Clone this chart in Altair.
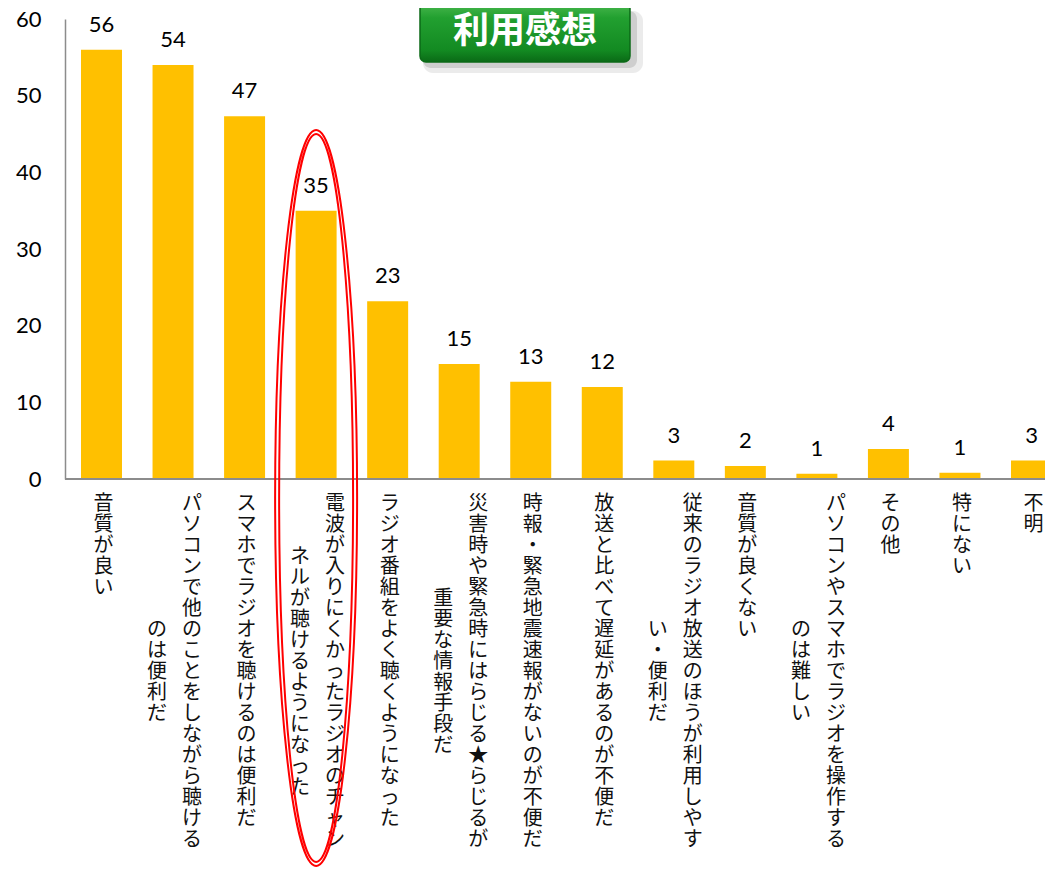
import altair as alt
import pandas as pd

# ---- data ----
label_col1 = [
    "音質が良い",
    "パソコンで他のことをしながら聴ける",
    "スマホでラジオを聴けるのは便利だ",
    "電波が入りにくかったラジオのチャン",
    "ラジオ番組をよく聴くようになった",
    "災害時や緊急時にはらじる★らじるが",
    "時報・緊急地震速報がないのが不便だ",
    "放送と比べて遅延があるのが不便だ",
    "従来のラジオ放送のほうが利用しやす",
    "音質が良くない",
    "パソコンやスマホでラジオを操作する",
    "その他",
    "特にない",
    "不明",
]
label_col2 = [
    "",
    "のは便利だ",
    "",
    "ネルが聴けるようになった",
    "",
    "重要な情報手段だ",
    "",
    "",
    "い・便利だ",
    "",
    "のは難しい",
    "",
    "",
    "",
]
values = [56.0, 54.0, 47.3, 35.0, 23.2, 15.0, 12.7, 12.0, 2.4, 1.7, 0.7, 3.9, 0.8, 2.4]
value_labels = ["56", "54", "47", "35", "23", "15", "13", "12", "3", "2", "1", "4", "1", "3"]
y_ticks = [0, 10, 20, 30, 40, 50, 60]
title_text = "利用感想"
highlight_index = 3

categories = [a + b for a, b in zip(label_col1, label_col2)]

df = pd.DataFrame({
    "cat": categories,
    "value": values,
    "vlabel": value_labels,
    "c1": label_col1,
    "c2": label_col2,
})
one = pd.DataFrame({"k": [0]})

NUM_FONT = "Lato"
JP_FONT = "Noto Sans CJK JP"
LH = 21
TOP = 475

xscale = alt.Scale(domain=categories, range=[16, 987], paddingInner=0.427, paddingOuter=0)
X = alt.X("cat:N", sort=categories, scale=xscale, axis=None)
Y = alt.Y(
    "value:Q",
    scale=alt.Scale(domain=[0, 60], nice=False),
    axis=alt.Axis(
        values=y_ticks, title=None, grid=False, ticks=False,
        domain=True, domainColor="#8c8c8c", domainWidth=1.5,
        labelFont=NUM_FONT, labelFontSize=22, labelColor="#000000",
        labelPadding=24,
    ),
)

base = alt.Chart(df)

bars = base.mark_bar(color="#FFC000").encode(x=X, y=Y)

vtext = base.mark_text(
    font=NUM_FONT, fontSize=22, color="#000000", baseline="alphabetic", dy=-18
).encode(x=X, y=alt.Y("value:Q"), text="vlabel:N")

xaxis_line = alt.Chart(one).mark_rule(color="#8c8c8c", strokeWidth=2).encode(
    x=alt.value(0), x2=alt.value(995), y=alt.value(460)
)

lab_kw = dict(font=JP_FONT, fontSize=20, color="#111111", lineHeight=LH, baseline="top")

single = base.transform_filter("datum.c2 == ''").transform_calculate(
    chars="split(datum.c1, '')"
).mark_text(dx=2, **lab_kw).encode(
    x=X, y=alt.value(TOP), text="chars:N"
)
first = base.transform_filter("datum.c2 != ''").transform_calculate(
    chars="split(datum.c1, '')"
).mark_text(dx=19, **lab_kw).encode(
    x=X, y=alt.value(TOP), text="chars:N"
)
second = base.transform_filter("datum.c2 != ''").transform_calculate(
    chars="split(datum.c2, '')",
    ypos=f"{TOP} + (length(datum.c1) - length(datum.c2)) * {LH} / 2",
).mark_text(dx=-16, **lab_kw).encode(
    x=X, y=alt.Y("ypos:Q", scale=None, axis=None), text="chars:N"
)

a, c = 0.1114, 0.1005
ell_path = (
    f"M -{a} 0 A {a} 1 0 1 1 {a} 0 A {a} 1 0 1 1 -{a} 0 Z "
    f"M -{c} 0 A {c} 0.989 0 1 1 {c} 0 A {c} 0.989 0 1 1 -{c} 0 Z"
)
ellipse = base.transform_filter(
    alt.FieldEqualPredicate(field="cat", equal=categories[highlight_index])
).mark_point(
    shape=ell_path, size=541696, filled=False, stroke="#FF0000",
    strokeWidth=2, opacity=1,
).encode(x=X, y=alt.value(479))

shadow1 = alt.Chart(one).mark_rect(
    color="#b0b0b0", opacity=0.25, cornerRadius=10
).encode(x=alt.value(358), x2=alt.value(578), y=alt.value(-8), y2=alt.value(54))
shadow2 = alt.Chart(one).mark_rect(
    color="#8a8a8a", opacity=0.3, cornerRadius=8
).encode(x=alt.value(358), x2=alt.value(572), y=alt.value(-8), y2=alt.value(49))

box = alt.Chart(one).mark_rect(
    color=alt.LinearGradient(
        gradient="linear", x1=0, y1=0, x2=0, y2=1,
        stops=[
            alt.GradientStop(offset=0, color="#49b84e"),
            alt.GradientStop(offset=0.25, color="#22a030"),
            alt.GradientStop(offset=0.8, color="#138a22"),
            alt.GradientStop(offset=1, color="#0a6a16"),
        ],
    ),
    cornerRadius=6, stroke="#0b6a17", strokeWidth=1.5,
).encode(x=alt.value(355), x2=alt.value(565), y=alt.value(-16), y2=alt.value(43))

title = alt.Chart(one).mark_text(
    text=title_text, font=JP_FONT, fontSize=36, fontWeight="bold",
    color="#ffffff", baseline="middle", align="center",
).encode(x=alt.value(460), y=alt.value(13))

chart = alt.layer(
    bars, vtext, xaxis_line, single, first, second, ellipse,
    shadow1, shadow2, box, title
).properties(
    width=980, height=460,
    autosize=alt.AutoSizeParams(type="none"),
    padding={"left": 57, "top": 11, "right": 0, "bottom": 389},
    background="white",
).configure_view(stroke=None)

chart.save("out.html", embed_options={"renderer": "svg", "actions": False})
